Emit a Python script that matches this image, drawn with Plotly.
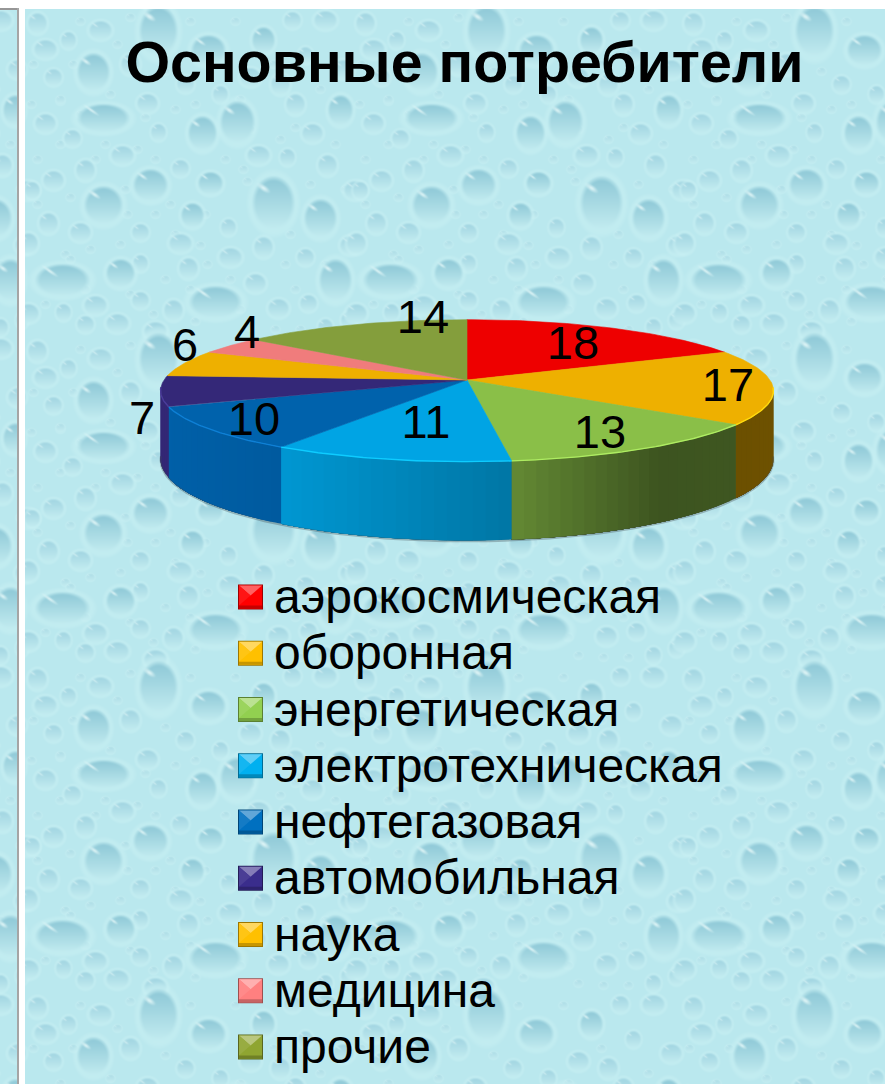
import base64
import struct
import zlib

import numpy as np
import plotly.graph_objects as go

# ---- chart content -------------------------------------------------------
TITLE = "Основные потребители"
CATEGORIES = ["аэрокосмическая", "оборонная", "энергетическая", "электротехническая",
              "нефтегазовая", "автомобильная", "наука", "медицина", "прочие"]
VALUES = [18, 17, 13, 11, 10, 7, 6, 4, 14]

TOP_COLORS = ["#ee0000", "#eeb000", "#8abf48", "#00a4e4", "#0062ac",
              "#342878", "#eeb000", "#f07c7c", "#849e3c"]
KEY_COLORS = ["#ff0000", "#ffc000", "#92d050", "#00b0f0", "#0070c0",
              "#3a2d8c", "#ffc000", "#ff8080", "#8fa531"]

# ---- page geometry (pixel axes) ------------------------------------------
WIDTH, HEIGHT = 885, 1084
PIE_CX, PIE_CY = 467.0, 380.0
PIE_RX, PIE_RY = 303.0, 69.4
PIE_PERSPECTIVE = 0.15
PIE_DEPTH = 67.0
LABEL_CENTRES = [(573, 347), (728, 389), (600, 436), (426, 426), (254, 423),
                 (142, 422), (185, 349), (247, 336), (423, 321)]
KEY_X, KEY_Y0, KEY_STEP, KEY_SIZE = 238.0, 597.0, 56.25, 25.0
KEY_TEXT_X = 274.0
KEY_TEXT_SHIFT = 4.0
FONT = "Liberation Sans"

# Droplets of the repeating wallpaper tile: centre x, centre y, radius x, radius y.
TILE = 328
LARGE_DROPS = [
    (78, 109, 27, 15), (212, 113, 18, 22), (177, 124, 15, 18), (248, 194, 22, 28),
    (78, 196, 20, 20), (295, 209, 17, 20), (125, 176, 18, 17), (37, 271, 28, 17),
    (190, 293, 27, 17), (310, 271, 17, 22), (95, 264, 15, 15), (185, 174, 13, 12),
    (167, 206, 12, 13), (133, 22, 20, 27), (183, 41, 18, 16), (68, 63, 17, 20),
    (238, 31, 12, 14), (315, 101, 13, 16),
]
MEDIUM_DROPS = [
    (20, 114), (47, 129), (97, 146), (133, 123), (60, 161), (28, 171), (155, 159),
    (233, 146), (262, 148), (302, 156), (287, 124), (315, 103), (330, 181), (7, 181),
    (23, 214), (55, 223), (115, 223), (155, 234), (203, 218), (238, 238), (325, 236),
    (280, 248), (205, 248), (115, 254), (163, 259), (230, 274), (115, 291), (70, 296),
    (38, 303), (148, 301), (253, 299), (283, 294), (92, 314), (323, 311), (3, 234),
    (3, 304), (28, 68), (75, 21), (43, 31), (12, 14), (122, 94), (267, 11), (300, 11),
    (280, 46), (255, 75), (318, 60), (60, 315), (130, 322), (300, 318), (105, 55),
    (225, 68), (160, 75), (20, 40), (195, 85), (270, 95),
]
MEDIUM_RADII = [(11, 10), (9, 9), (12, 10), (8, 9), (10, 11)]
SMALL_DROPS = [
    (6, 95), (35, 92), (55, 105), (120, 108), (150, 100), (200, 150), (222, 172),
    (270, 118), (310, 135), (12, 150), (80, 135), (112, 140), (145, 195), (45, 188),
    (102, 205), (218, 160), (175, 236), (140, 270), (65, 240), (40, 245), (130, 205),
    (265, 225), (300, 255), (260, 255), (215, 300), (165, 280), (60, 280), (20, 295),
    (95, 235), (182, 255), (128, 305), (170, 312), (225, 318), (275, 320), (85, 85),
    (55, 12), (105, 8), (165, 12), (210, 12), (248, 55), (295, 80), (140, 62),
    (92, 35), (35, 90), (170, 95), (215, 90), (8, 55), (48, 55), (70, 150), (130, 150),
    (180, 205), (35, 135), (255, 130), (320, 180), (105, 285), (45, 250), (205, 270),
    (250, 320), (150, 225), (100, 180), (225, 120), (285, 175), (12, 195), (270, 280),
]
BASE_RGB = (186, 232, 238)
VEIN_RGB = (202, 241, 244)
DROP_BOTTOM_RGB = (196, 237, 241)
GLINT_RGB = (232, 250, 250)


def paint_drop(img, cx, cy, rx, ry, top_rgb, glint_alpha):
    """Composite one shaded droplet on the tile, wrapping at its edges."""
    ys, xs = np.mgrid[0:TILE, 0:TILE].astype(float)
    dx = (xs - cx + TILE / 2) % TILE - TILE / 2
    dy = (ys - cy + TILE / 2) % TILE - TILE / 2
    dist = np.sqrt((dx / rx) ** 2 + (dy / ry) ** 2)

    halo = np.clip((1.28 - dist) / 0.2, 0, 1)[..., None] * 0.5
    img[:] = img * (1 - halo) + np.array(VEIN_RGB) * halo

    mask = np.clip((1.0 - dist) / 0.2, 0, 1)[..., None]
    t = np.clip((dy + ry) / (2 * ry), 0, 1)[..., None] ** 1.0
    shade = np.array(top_rgb) * (1 - t) + np.array(DROP_BOTTOM_RGB) * t
    img[:] = img * (1 - mask) + shade * mask

    # Slanted glint on the upper left of the droplet
    gx, gy = dx + 0.45 * rx, dy + 0.55 * ry
    u = (gx * 0.82 + gy * 0.57) / max(0.32 * rx, 1.6)
    v = (-gx * 0.57 + gy * 0.82) / max(0.10 * ry, 0.8)
    glint = np.clip(1.2 - np.sqrt(u ** 2 + v ** 2), 0, 1)[..., None] * glint_alpha
    img[:] = img * (1 - glint) + np.array(GLINT_RGB) * glint


def wallpaper_tile():
    img = np.ones((TILE, TILE, 3)) * np.array(BASE_RGB)
    for x, y in SMALL_DROPS:
        paint_drop(img, x, y, 4.5, 4.0, (172, 220, 230), 0.4)
    for n, (x, y) in enumerate(MEDIUM_DROPS):
        rx, ry = MEDIUM_RADII[n % len(MEDIUM_RADII)]
        paint_drop(img, x % TILE, y, rx, ry, (160, 212, 225), 0.65)
    for drop in LARGE_DROPS:
        paint_drop(img, *drop, (140, 199, 214), 0.85)
    # soften the tile a little
    soft = sum(np.roll(np.roll(img, i, 0), j, 1) for i in (-1, 0, 1) for j in (-1, 0, 1)) / 9
    return 0.35 * img + 0.65 * soft


def png_data_uri(rgb):
    h, w, _ = rgb.shape
    raw = b"".join(b"\x00" + rgb[r].tobytes() for r in range(h))

    def chunk(tag, data):
        return (struct.pack(">I", len(data)) + tag + data
                + struct.pack(">I", zlib.crc32(tag + data) & 0xFFFFFFFF))

    payload = (b"\x89PNG\r\n\x1a\n"
               + chunk(b"IHDR", struct.pack(">IIBBBBB", w, h, 8, 2, 0, 0, 0))
               + chunk(b"IDAT", zlib.compress(raw, 9))
               + chunk(b"IEND", b""))
    return "data:image/png;base64," + base64.b64encode(payload).decode()


def page_background():
    tile = wallpaper_tile()
    page = np.ones((HEIGHT, WIDTH, 3)) * 255.0
    main = np.tile(tile, (4, 3, 1))
    page[9:, 25:] = main[:HEIGHT - 9, :WIDTH - 25]
    # narrow neighbouring panel on the left, with its grey frame
    page[9:, :17] = main[:HEIGHT - 9, 300:317]
    page[8:10, :18] = (150, 150, 150)
    page[8:, 17:19] = (165, 165, 165)
    return png_data_uri(np.clip(page, 0, 255).astype(np.uint8))


# ---- helpers for the tilted pie ------------------------------------------
def project(theta_deg, lower=False):
    th = np.radians(theta_deg)
    w = 1 + PIE_PERSPECTIVE * np.cos(th)
    x = PIE_CX + PIE_RX * np.sin(th) / w
    y = PIE_CY - PIE_RY * np.cos(th) / w
    if lower:
        y = y + PIE_DEPTH / w
    return x, y


def rgb_of(hex_color):
    return tuple(int(hex_color[i:i + 2], 16) for i in (1, 3, 5))


def css(rgb):
    return "rgb({},{},{})".format(*[int(round(min(255, max(0, c)))) for c in rgb])


def scaled(hex_color, k):
    return css([c * k for c in rgb_of(hex_color)])


def lightened(hex_color, k):
    return css([c + (255 - c) * k for c in rgb_of(hex_color)])


def bevelled(hex_color):
    return css([c * 1.16 + 14 for c in rgb_of(hex_color)])


SIDE_LIGHT_X = [160, 283, 512, 660, 775]
SIDE_LIGHT_K = [0.98, 0.92, 0.72, 0.44, 0.46]
FACING_FROM, FACING_TO = 96.0, 264.0

fig = go.Figure()
total = sum(VALUES)
edges = np.cumsum([0] + VALUES) / total * 360.0

# Rim of the pie: each band is painted from its start to the slice's far end,
# so the next band covers it and no background shows between neighbours.
for i, colour in enumerate(TOP_COLORS):
    a0, a1 = max(edges[i], FACING_FROM), min(edges[i + 1], FACING_TO)
    if a1 <= a0:
        continue
    steps = max(1, int((a1 - a0) / 2.0))
    cuts = np.linspace(a0, a1, steps + 1)
    for s in range(steps):
        arc = np.linspace(cuts[s], a1, 24)
        xt, yt = project(arc)
        xb, yb = project(arc, lower=True)
        mid_x, _ = project((cuts[s] + cuts[s + 1]) / 2)
        k = float(np.interp(mid_x, SIDE_LIGHT_X, SIDE_LIGHT_K))
        fig.add_trace(go.Scatter(
            x=np.r_[xt, xb[::-1], xt[0]], y=np.r_[yt, yb[::-1], yt[0]],
            mode="none", fill="toself", fillcolor=scaled(colour, k),
            hoverinfo="skip", showlegend=False))

# Soft grey line under the rim
under = np.linspace(FACING_FROM, FACING_TO, 120)
ux, uy = project(under, lower=True)
fig.add_trace(go.Scatter(x=ux, y=uy + 1.0, mode="lines",
                         line=dict(color="rgba(70,80,85,0.35)", width=2),
                         hoverinfo="skip", showlegend=False))

# Top face of every slice
for i, colour in enumerate(TOP_COLORS):
    arc = np.linspace(edges[i], edges[i + 1], 60)
    xs, ys = project(arc)
    fig.add_trace(go.Scatter(
        x=np.r_[PIE_CX, xs, PIE_CX], y=np.r_[PIE_CY, ys, PIE_CY],
        mode="lines", fill="toself", fillcolor=colour,
        line=dict(color=colour, width=0.6), name=CATEGORIES[i],
        hovertemplate="%{fullData.name}: " + str(VALUES[i]) + "<extra></extra>",
        showlegend=False))

# Bevel highlight along the near edge of the top face
for i, colour in enumerate(TOP_COLORS):
    a0, a1 = max(edges[i], FACING_FROM), min(edges[i + 1], FACING_TO)
    if a1 <= a0:
        continue
    xs, ys = project(np.linspace(a0, a1, 50))
    fig.add_trace(go.Scatter(x=xs, y=ys, mode="lines",
                             line=dict(color=bevelled(colour), width=1.4),
                             hoverinfo="skip", showlegend=False))

# Slice values
fig.add_trace(go.Scatter(
    x=[p[0] for p in LABEL_CENTRES], y=[p[1] for p in LABEL_CENTRES],
    mode="text", text=[str(v) for v in VALUES], textposition="middle center",
    textfont=dict(family=FONT, size=47, color="#000000"),
    hoverinfo="skip", showlegend=False))

# Key: bevelled squares drawn as shapes, captions as one text trace
shapes = []
key_ys = [KEY_Y0 + n * KEY_STEP for n in range(len(CATEGORIES))]
for colour, yc in zip(KEY_COLORS, key_ys):
    x0, x1 = KEY_X, KEY_X + KEY_SIZE
    y0, y1 = yc - KEY_SIZE / 2, yc + KEY_SIZE / 2
    xc = (x0 + x1) / 2
    pieces = [
        (f"M{x0},{y0}H{x1}V{y1}H{x0}Z", scaled(colour, 0.62)),
        (f"M{x0+1},{y0+1}H{x1-1}V{y1-1}H{x0+1}Z", colour),
        (f"M{x0+1},{y0+1}H{x1-1}L{xc},{y0+11}Z", lightened(colour, 0.38)),
        (f"M{x0+1},{y0+1}L{xc},{y0+11}L{x0+1},{y1-4}Z", lightened(colour, 0.08)),
        (f"M{x0+1},{y1-4}H{x1-1}V{y1-1}H{x0+1}Z", scaled(colour, 0.78)),
    ]
    for path, fill in pieces:
        shapes.append(dict(type="path", path=path, xref="x", yref="y",
                           fillcolor=fill, line=dict(width=0), layer="above"))

fig.add_trace(go.Scatter(
    x=[KEY_TEXT_X] * len(CATEGORIES), y=[k + KEY_TEXT_SHIFT for k in key_ys], mode="text",
    text=CATEGORIES, textposition="middle right",
    textfont=dict(family=FONT, size=48, color="#000000"),
    hoverinfo="skip", showlegend=False))

fig.update_layout(
    width=WIDTH, height=HEIGHT, autosize=False,
    margin=dict(l=0, r=0, t=0, b=0),
    paper_bgcolor="#ffffff", plot_bgcolor="rgba(0,0,0,0)",
    showlegend=False, shapes=shapes,
    title=dict(text=TITLE, x=464.5 / WIDTH, xanchor="center", y=1 - 62 / HEIGHT,
               yanchor="middle", font=dict(family=FONT, size=57.4, color="#000000", weight="bold")),
    xaxis=dict(range=[0, WIDTH], visible=False, fixedrange=True),
    yaxis=dict(range=[HEIGHT, 0], visible=False, fixedrange=True),
    images=[dict(source=page_background(), xref="x", yref="y", x=0, y=0,
                 sizex=WIDTH, sizey=HEIGHT, sizing="stretch",
                 xanchor="left", yanchor="top", layer="below")],
)

fig.write_html("out.html", config=dict(displayModeBar=False))
